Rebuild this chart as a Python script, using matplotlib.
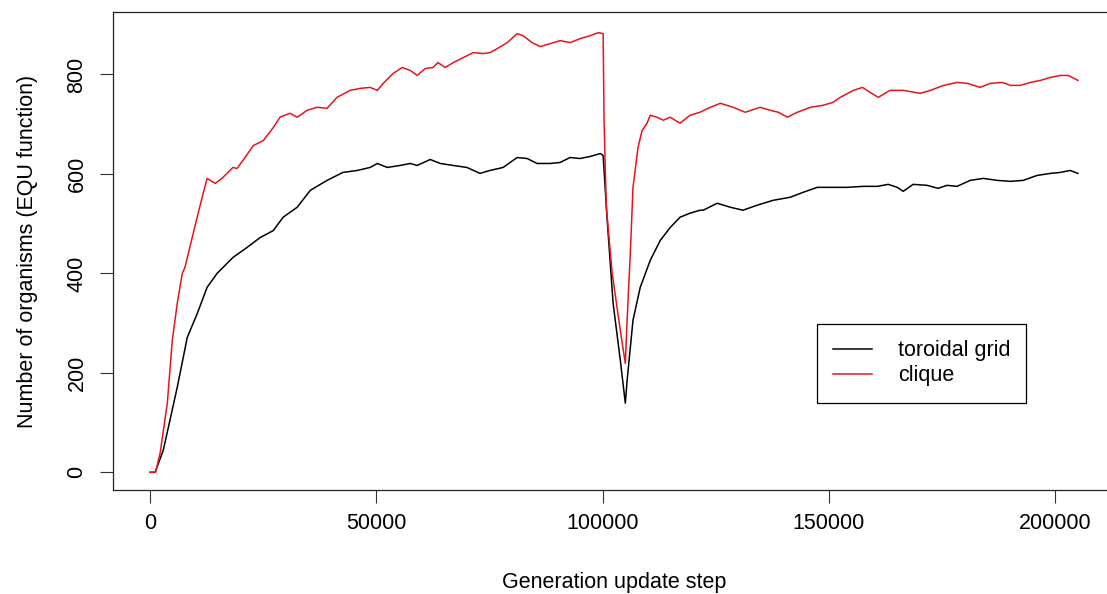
import matplotlib
matplotlib.use("Agg")
import matplotlib.pyplot as plt

# ---- data ----
toroidal_steps = [0, 1100, 2900, 6000, 8200, 10400, 12600, 14800, 18300, 21400,
                  24300, 27200, 29400, 32500, 35400, 39100, 42600, 45800, 48600,
                  50200, 52400, 55200, 57500, 59000, 61900, 64100, 67000, 70000,
                  72900, 75100, 78000, 81100, 83300, 85500, 88400, 90600, 92800,
                  95000, 97200, 99500, 100100, 101000, 102300, 103900, 105000,
                  105400, 106700, 108300, 110500, 112700, 114900, 117100, 119300,
                  121500, 122200, 125300, 128200, 131000, 134100, 137700, 141400,
                  144300, 147400, 150300, 154000, 157600, 160700, 163100, 165100,
                  166400, 168600, 171700, 174100, 176100, 178300, 181200, 184100,
                  187200, 190100, 192900, 196000, 198900, 201100, 203300, 205000]
toroidal_values = [0, 0, 44, 171, 271, 319, 372, 400, 432, 452,
                   472, 486, 513, 533, 567, 587, 603, 607, 613,
                   621, 613, 617, 621, 617, 629, 621, 617, 613,
                   601, 607, 613, 633, 631, 621, 621, 623, 633,
                   631, 635, 641, 637, 507, 340, 225, 139,
                   185, 306, 372, 426, 466, 492, 513, 521,
                   527, 527, 541, 533, 527, 537, 547, 553,
                   563, 573, 573, 573, 575, 575, 579, 573,
                   565, 579, 577, 571, 577, 575, 587, 591,
                   587, 585, 587, 597, 601, 603, 607, 601]

clique_steps = [0, 1200, 2200, 3800, 4900, 6000, 7100, 7700, 9300, 10400, 11500,
                12600, 13300, 14400, 16100, 18300, 19200, 20500, 22800, 25000,
                27200, 28700, 30900, 32500, 34700, 36900, 39100, 41300, 44200,
                46400, 48600, 50200, 51500, 53700, 55700, 57500, 59000, 60800,
                62500, 63600, 65200, 67000, 69200, 71400, 73600, 75100, 76700,
                78900, 81100, 82400, 84400, 86200, 88400, 90600, 92800, 95000,
                97200, 99000, 100100, 100300, 100800, 102100, 103900, 105000,
                105400, 106100, 106700, 107800, 108700, 109800, 110500, 112000,
                113400, 114900, 117100, 119300, 121500, 123800, 126000, 128800,
                131500, 134800, 137000, 138800, 140800, 143000, 145900, 148700,
                150900, 152500, 155400, 157400, 159100, 160900, 163500, 166400,
                170200, 172400, 175300, 178300, 180600, 183400, 185600, 188300,
                190100, 192300, 194500, 196700, 198900, 201100, 202900, 205000]
clique_values = [0, 0, 38, 139, 265, 340, 400, 412, 472, 513, 553,
                 591, 587, 581, 593, 613, 611, 627, 657, 667,
                 693, 714, 722, 714, 728, 734, 732, 754, 768,
                 772, 774, 768, 782, 802, 814, 808, 798, 812,
                 814, 824, 814, 824, 834, 844, 842, 844, 852,
                 864, 882, 878, 864, 856, 862, 868, 864, 872,
                 878, 884, 882, 708, 533, 400, 285, 219,
                 306, 440, 573, 653, 687, 702, 718, 714,
                 708, 714, 702, 718, 724, 734, 742, 734,
                 724, 734, 728, 724, 714, 724, 734, 738,
                 744, 754, 768, 774, 764, 754, 768, 768,
                 762, 768, 778, 784, 782, 774, 782, 784,
                 778, 778, 784, 788, 794, 798, 798, 788]

series_labels = ["toroidal grid", "clique"]
x_ticks = [0, 50000, 100000, 150000, 200000]
y_ticks = [0, 200, 400, 600, 800]

plt.rcParams['font.family'] = ['Liberation Sans', 'DejaVu Sans']

W, H = 1107, 594
fig = plt.figure(figsize=(W / 100, H / 100), dpi=100)
left, right, top, bottom = 113, 1115, 12, 490
ax = fig.add_axes([left / W, 1 - bottom / H, (right - left) / W, (bottom - top) / H])

ax.plot(toroidal_steps, toroidal_values, color="black", lw=1.1, label=series_labels[0])
ax.plot(clique_steps, clique_values, color="#e8141c", lw=1.1, label=series_labels[1])

ax.set_xlim(-8200, 213200)
ax.set_ylim(-35.6, 925.6)
ax.set_xticks(x_ticks)
ax.set_xticklabels([str(v) for v in x_ticks])
ax.set_yticks(y_ticks)
ax.set_yticklabels([str(v) for v in y_ticks], rotation=90, va="center")

fs = 15.5
ax.tick_params(axis="both", direction="out", length=9.4, width=0.8, labelsize=fs, color="#333333")
ax.tick_params(axis="x", pad=7)
ax.tick_params(axis="y", pad=9)
for s in ax.spines.values():
    s.set_linewidth(0.9)
    s.set_color("#222222")

ax.set_xlabel("Generation update step", fontsize=fs)
ax.set_ylabel("Number of organisms (EQU function)", fontsize=fs)
ax.xaxis.set_label_coords(0.5, -(572 - bottom) / (bottom - top))
ax.yaxis.set_label_coords(-(left - 38) / (right - left), 0.5)

leg = ax.legend(loc="upper left", bbox_to_anchor=(817 / W, 1 - 324 / H),
                bbox_transform=fig.transFigure, borderaxespad=0, fontsize=fs,
                frameon=True, fancybox=False, edgecolor="black", framealpha=1,
                borderpad=0.75, handlelength=1.8, handletextpad=1.2, labelspacing=0.2)
leg.get_frame().set_linewidth(0.9)

fig.savefig("out.png", dpi=100)
